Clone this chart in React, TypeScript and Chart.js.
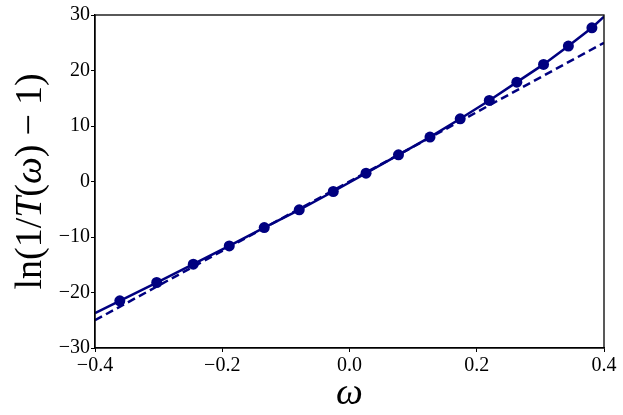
import React, { useEffect, useRef } from "react";
import { Chart, registerables } from "chart.js";

Chart.register(...registerables);

// Measured points (omega, ln(1/T - 1))
const omegaValues = [
  -0.361, -0.303, -0.2455, -0.189, -0.134, -0.079, -0.0255, 0.026, 0.077, 0.1265,
  0.174, 0.2197, 0.263, 0.305, 0.344, 0.381,
];
const lnValues = [
  -21.5, -18.2, -14.9, -11.6, -8.3, -5.1, -1.8, 1.5, 4.8, 8.0, 11.3, 14.6, 17.9, 21.1,
  24.4, 27.7,
];

// Solid curve (through the points, extended to the axis limits)
const curveOmega = [-0.4, ...omegaValues, 0.4];
const curveValues = [-23.7, ...lnValues, 29.7];

// Dashed linear approximation
const linearOmega = [-0.4, 0.4];
const linearValues = [-25, 25];

const xTicks = [-0.4, -0.2, 0.0, 0.2, 0.4];
const yTicks = [-30, -20, -10, 0, 10, 20, 30];

const NAVY = "#000080";
const SERIF = "'Liberation Serif', 'DejaVu Serif', serif";

const toPts = (xs: number[], ys: number[]) => xs.map((x, i) => ({ x, y: ys[i] }));
const fmtMinus = (s: string) => s.replace("-", "\u2212");

const frame = {
  id: "frame",
  afterDraw(chart: any) {
    const { ctx, chartArea } = chart;
    ctx.save();
    ctx.strokeStyle = "#000";
    ctx.lineWidth = 1.3;
    ctx.strokeRect(chartArea.left, chartArea.top, chartArea.right - chartArea.left, chartArea.bottom - chartArea.top);
    ctx.restore();
  },
};

const yTitle = {
  id: "yTitle",
  afterDraw(chart: any) {
    const { ctx, chartArea } = chart;
    const size = 38;
    const gap = 9;
    const segs: { t: string; it: boolean; after?: number }[] = [
      { t: "ln(1/", it: false },
      { t: "T", it: true },
      { t: "(", it: false },
      { t: "\u03C9", it: true },
      { t: ")", it: false, after: gap },
      { t: "\u2212", it: false, after: gap },
      { t: "1)", it: false },
    ];
    ctx.save();
    const widths = segs.map((s) => {
      ctx.font = `${s.it ? "italic " : ""}${size}px ${SERIF}`;
      return ctx.measureText(s.t).width + (s.after || 0);
    });
    const total = widths.reduce((a, b) => a + b, 0);
    ctx.translate(41, (chartArea.top + chartArea.bottom) / 2);
    ctx.rotate(-Math.PI / 2);
    ctx.fillStyle = "#000";
    ctx.textBaseline = "alphabetic";
    ctx.textAlign = "left";
    let x = -total / 2;
    segs.forEach((s, i) => {
      ctx.font = `${s.it ? "italic " : ""}${size}px ${SERIF}`;
      ctx.fillText(s.t, x, 0);
      x += widths[i];
    });
    ctx.restore();
  },
};

export default function App() {
  const ref = useRef<HTMLCanvasElement | null>(null);

  useEffect(() => {
    if (!ref.current) return;
    const chart = new Chart(ref.current, {
      type: "line",
      data: {
        datasets: [
          {
            label: "data",
            data: toPts(omegaValues, lnValues),
            showLine: false,
            pointRadius: 5.5,
            pointHoverRadius: 5.5,
            pointBackgroundColor: NAVY,
            pointBorderColor: NAVY,
            pointBorderWidth: 0,
            order: 0,
          },
          {
            label: "curve",
            data: toPts(curveOmega, curveValues),
            borderColor: NAVY,
            borderWidth: 2.5,
            pointRadius: 0,
            fill: false,
            tension: 0,
            order: 1,
          },
          {
            label: "linear",
            data: toPts(linearOmega, linearValues),
            borderColor: NAVY,
            borderWidth: 2.5,
            borderDash: [8, 4.5],
            pointRadius: 0,
            fill: false,
            order: 2,
          },
        ],
      },
      options: {
        responsive: false,
        animation: false,
        events: [],
        layout: { padding: { left: 0, right: 19, top: 15, bottom: 0 } },
        plugins: { legend: { display: false }, tooltip: { enabled: false } },
        scales: {
          x: {
            type: "linear",
            min: -0.4,
            max: 0.4,
            afterBuildTicks: (axis: any) => {
              axis.ticks = xTicks.map((v) => ({ value: v }));
            },
            afterFit: (axis: any) => {
              axis.height = 67;
            },
            ticks: {
              color: "#000",
              font: { family: SERIF, size: 20 },
              padding: 2,
              maxRotation: 0,
              autoSkip: false,
              callback: (v: any) => fmtMinus((Math.abs(Number(v)) < 1e-9 ? 0 : Number(v)).toFixed(1)),
            },
            grid: { drawOnChartArea: false, drawTicks: true, tickLength: 4, tickColor: "#000", tickWidth: 1 },
            border: { display: true, color: "#000", width: 1.3 },
            title: {
              display: true,
              text: "\u03C9",
              color: "#000",
              font: { family: SERIF, size: 38, style: "italic", lineHeight: 1 },
              padding: { top: 0, bottom: 2 },
            },
          },
          y: {
            type: "linear",
            min: -30,
            max: 30,
            afterBuildTicks: (axis: any) => {
              axis.ticks = yTicks.map((v) => ({ value: v }));
            },
            afterFit: (axis: any) => {
              axis.width = 95;
            },
            ticks: {
              color: "#000",
              font: { family: SERIF, size: 20 },
              padding: 1,
              autoSkip: false,
              callback: (v: any) => fmtMinus(String(Number(v))),
            },
            grid: { drawOnChartArea: false, drawTicks: true, tickLength: 4, tickColor: "#000", tickWidth: 1 },
            border: { display: true, color: "#000", width: 1.3 },
          },
        },
      },
      plugins: [frame, yTitle],
    });
    return () => chart.destroy();
  }, []);

  return (
    <div style={{ position: "absolute", left: 0, top: 0, width: 623, height: 415, background: "#fff" }}>
      <canvas ref={ref} width={623} height={415} style={{ display: "block" }} />
    </div>
  );
}
